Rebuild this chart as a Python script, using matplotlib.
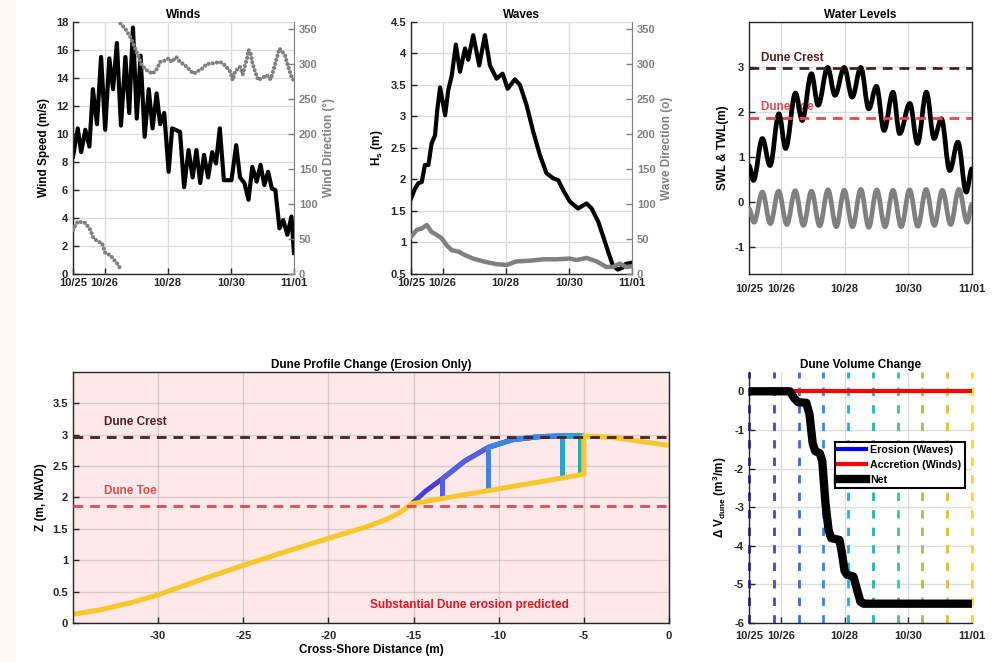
import numpy as np
import matplotlib
matplotlib.use('Agg')
import matplotlib.pyplot as plt
from matplotlib.path import Path
from matplotlib.patches import PathPatch, Rectangle

plt.rcParams['font.family'] = ['Liberation Sans', 'DejaVu Sans']
plt.rcParams['font.weight'] = 'bold'
plt.rcParams['axes.titleweight'] = 'bold'
plt.rcParams['axes.labelweight'] = 'bold'
plt.rcParams['axes.unicode_minus'] = False
plt.rcParams['mathtext.fontset'] = 'custom'
plt.rcParams['mathtext.rm'] = 'Liberation Sans:bold'
plt.rcParams['mathtext.it'] = 'Liberation Sans:bold'
plt.rcParams['mathtext.bf'] = 'Liberation Sans:bold'
plt.rcParams['mathtext.default'] = 'rm'

# time axis: days since 10/25 00:00
tick_days = [0, 1, 3, 5, 7]
tick_labels = ['10/25', '10/26', '10/28', '10/30', '11/01']

# winds
wind_t = [0, 0.15, 0.26, 0.39, 0.52, 0.63, 0.76, 0.89, 1.02, 1.15,
          1.27, 1.39, 1.52, 1.66, 1.78, 1.90, 2.02, 2.14, 2.27, 2.40,
          2.52, 2.65, 2.76, 2.89, 3.03, 3.14, 3.39, 3.52, 3.66, 3.79,
          3.91, 4.03, 4.15, 4.28, 4.41, 4.53, 4.65, 4.78, 5.02, 5.17,
          5.29, 5.43, 5.56, 5.68, 5.82, 5.94, 6.06, 6.18, 6.30, 6.41,
          6.54, 6.66, 6.79, 6.92, 7.0]
wind_speed = [8.37, 10.4, 8.7, 10.3, 9.1, 13.2, 10.7, 15.5, 10.3, 15.4,
              13.2, 16.5, 10.6, 15.5, 11.5, 17.6, 11.1, 15.6, 9.8, 13.2,
              10.4, 12.9, 10.7, 11.5, 7.3, 10.4, 10.15, 6.2, 8.85, 6.9,
              8.85, 6.5, 8.5, 6.9, 8.7, 7.9, 10.4, 6.7, 6.7, 9.2,
              6.9, 6.5, 5.3, 7.65, 6.6, 7.8, 6.35, 7.3, 6.1, 6.0,
              3.26, 3.85, 2.8, 4.1, 1.5]
wdir_t1 = [0, 0.15, 0.39, 0.55, 0.65, 0.81, 0.92, 1.02, 1.18, 1.34, 1.44, 1.50]
wdir_1 = [63, 75, 73, 63, 51, 46, 44, 30, 27, 18, 13, 7]
wdir_t2 = [1.50, 1.66, 1.81, 1.97, 2.08, 2.18, 2.34, 2.52, 2.66, 2.76,
           2.92, 3.03, 3.13, 3.27, 3.39, 3.55, 3.66, 3.82, 3.92, 4.08,
           4.24, 4.45, 4.66, 4.82, 4.98, 5.06, 5.13, 5.29, 5.38, 5.45,
           5.52, 5.56, 5.63, 5.69, 5.77, 5.87, 6.03, 6.14, 6.26, 6.35,
           6.45, 6.54, 6.64, 6.72, 6.79, 6.87, 6.94, 7.0]
wdir_2 = [358, 350, 339, 322, 310, 298, 291, 286, 293, 303,
          305, 308, 303, 310, 303, 298, 293, 286, 289, 293,
          300, 301, 303, 298, 289, 277, 289, 296, 285, 298,
          309, 320, 315, 300, 289, 277, 281, 284, 278, 291,
          308, 322, 317, 312, 300, 289, 279, 277]

# waves
hs_t = [0, 0.13, 0.23, 0.34, 0.44, 0.55, 0.65, 0.76, 0.83, 0.92,
        1.08, 1.18, 1.29, 1.42, 1.55, 1.71, 1.81, 1.97, 2.16, 2.34,
        2.50, 2.71, 2.90, 3.06, 3.29, 3.45, 3.66, 3.87, 4.08, 4.29,
        4.50, 4.66, 4.82, 5.03, 5.29, 5.56, 5.72, 5.93, 6.09, 6.30,
        6.40, 6.55, 6.70, 6.80, 7.0]
hs = [1.70, 1.86, 1.94, 1.96, 2.23, 2.23, 2.57, 2.70, 3.10, 3.46,
      3.02, 3.42, 3.65, 4.14, 3.71, 4.08, 3.90, 4.29, 3.81, 4.29,
      3.81, 3.60, 3.68, 3.44, 3.59, 3.50, 3.18, 2.76, 2.39, 2.10,
      2.02, 1.99, 1.83, 1.65, 1.54, 1.62, 1.54, 1.33, 1.09, 0.77,
      0.63, 0.57, 0.60, 0.66, 0.68]
wave_dir_t = [0, 0.18, 0.34, 0.50, 0.65, 0.81, 0.97, 1.13, 1.29, 1.50,
              1.71, 1.97, 2.29, 2.71, 3.03, 3.34, 3.77, 4.19, 4.61, 5.03,
              5.24, 5.56, 5.88, 6.19, 6.40, 6.61, 6.82, 7.0]
wave_dir = [53, 63, 65, 70, 60, 56, 51, 41, 34, 32,
            27, 22, 18, 14, 13, 18, 19, 21, 21, 22,
            20, 23, 18, 10, 10, 15, 10, 11]

# water levels (turning points of the curves)
swl_t = [0, 0.16, 0.42, 0.67, 0.93, 1.19, 1.45, 1.71, 1.96, 2.22,
         2.48, 2.74, 2.99, 3.25, 3.51, 3.76, 4.01, 4.27, 4.52, 4.78,
         5.04, 5.30, 5.56, 5.82, 6.07, 6.33, 6.59, 6.85, 7.0]
swl = [-0.15, -0.45, 0.22, -0.48, 0.24, -0.50, 0.25, -0.52, 0.24, -0.53,
       0.27, -0.55, 0.26, -0.55, 0.28, -0.56, 0.27, -0.55, 0.26, -0.55,
       0.27, -0.54, 0.28, -0.52, 0.26, -0.50, 0.28, -0.45, -0.05]
twl_t = [0, 0.14, 0.42, 0.66, 0.94, 1.15, 1.46, 1.67, 1.96, 2.17,
         2.47, 2.70, 2.99, 3.24, 3.51, 3.76, 4.00, 4.24, 4.52, 4.73,
         5.05, 5.29, 5.57, 5.81, 6.04, 6.30, 6.56, 6.82, 7.0]
twl = [0.81, 0.48, 1.41, 0.81, 1.96, 1.19, 2.42, 1.81, 2.85, 2.15,
       2.99, 2.37, 2.99, 2.33, 2.99, 2.07, 2.57, 1.59, 2.44, 1.52,
       2.19, 1.30, 2.44, 1.41, 1.85, 0.70, 1.33, 0.22, 0.74]
dune_crest = 2.97
dune_toe = 1.87

# dune profile
beach_x = [-35, -33.4, -31.5, -30.1, -27.6, -25.1, -22.7, -20.1, -17.8, -16.6, -15.8, -15.1]
beach_z = [0.14, 0.21, 0.33, 0.44, 0.68, 0.91, 1.12, 1.34, 1.53, 1.65, 1.76, 1.90]
dune_x = [-15.1, -14.3, -13.3, -12.0, -10.6, -9.2, -7.6, -6.3, -5.2, -5.0, -3.4, -1.8, 0.0]
dune_z = [1.90, 2.10, 2.30, 2.58, 2.80, 2.92, 2.97, 2.98, 2.98, 2.98, 2.96, 2.90, 2.83]
scarp_x = [-13.3, -10.6, -6.3, -5.2, -5.0]
scarp_base = [2.00, 2.12, 2.32, 2.36, 2.37]
profile_colors = ['#4a3fd4', '#5560e4', '#3b86e2', '#28a4d2', '#1fb4a2', '#f8c72c']

# dune volume change
step_t = [0, 0.78, 1.56, 2.33, 3.11, 3.89, 4.67, 5.44, 6.22, 7.0]
step_colors = ['#3e26a8', '#4545d8', '#3a6ae8', '#2d8ce6', '#22aede',
               '#1bb8bc', '#45c08f', '#a6c13e', '#efb832', '#f8d820']
net_t = [0, 1.28, 1.42, 1.54, 1.80, 1.90, 2.00, 2.08, 2.22, 2.30, 2.40,
         2.50, 2.58, 2.84, 2.92, 3.00, 3.08, 3.28, 3.38, 3.50, 3.60, 7.0]
net_v = [0, 0, -0.18, -0.28, -0.30, -0.60, -1.35, -1.55, -1.60, -1.80, -2.90,
         -3.60, -3.80, -3.85, -4.20, -4.65, -4.75, -4.80, -5.10, -5.45, -5.50, -5.50]
accr_t = [0, 7]
accr_v = [0, 0]

GRID = '#dcdcdc'
GREY = '#808080'
AXC = '#262626'
FS = 8


def smooth_line(ax, x, y, **kw):
    # cubic segments with flat tangents at each turning point
    verts = [(x[0], y[0])]
    codes = [Path.MOVETO]
    for i in range(len(x) - 1):
        dx = x[i + 1] - x[i]
        verts += [(x[i] + 0.36 * dx, y[i]), (x[i + 1] - 0.36 * dx, y[i + 1]), (x[i + 1], y[i + 1])]
        codes += [Path.CURVE4] * 3
    ax.add_patch(PathPatch(Path(verts, codes), fill=False, capstyle='round', joinstyle='round', **kw))


def time_axis(ax):
    ax.set_xlim(0, 7)
    ax.set_xticks(tick_days)
    ax.set_xticklabels(tick_labels)


def base_style(ax):
    ax.tick_params(direction='in', length=4, width=1, labelsize=FS, colors=AXC)
    ax.grid(True, color=GRID, lw=1)
    ax.set_axisbelow(True)
    for s in ax.spines.values():
        s.set_color(AXC)
        s.set_linewidth(1)


def right_axis(ax, label):
    ax2 = ax.twinx()
    ax2.set_ylim(0, 360)
    ax2.set_yticks(np.arange(0, 351, 50))
    ax2.tick_params(direction='in', length=4, width=1, labelsize=FS, colors=GREY)
    for s in ['left', 'top', 'bottom']:
        ax2.spines[s].set_visible(False)
    ax2.spines['right'].set_color(GREY)
    ax2.set_ylabel(label, color=GREY, fontsize=8.5, labelpad=4)
    ax.spines['right'].set_visible(False)
    ax.spines['top'].set_visible(False)
    return ax2


fig = plt.figure(figsize=(10.04, 6.62), dpi=100)
fig.patches.append(Rectangle((0, 0), 15 / 1004, 1, transform=fig.transFigure,
                             color='#fbfbf2', zorder=-5))

# ---- Winds
ax1 = fig.add_axes([0.0727, 0.5861, 0.2201, 0.3807])
base_style(ax1)
ax1.plot(wind_t, wind_speed, color='k', lw=3)
ax1.set_ylim(0, 18)
ax1.set_yticks(np.arange(0, 19, 2))
time_axis(ax1)
ax1.tick_params(axis='x', pad=3.2)
ax1.set_ylabel('Wind Speed (m/s)', fontsize=8.5, labelpad=4)
ax1.set_title('Winds', fontsize=8.5, pad=3)
ax1b = right_axis(ax1, 'Wind Direction (°)')
for tt, dd in [(wdir_t1, wdir_1), (wdir_t2, wdir_2)]:
    ax1b.plot(tt, dd, color=GREY, lw=3, dashes=(0.01, 1.0), dash_capstyle='round')
ax1b.set_xlim(0, 7)

# ---- Waves
ax2 = fig.add_axes([0.4094, 0.5861, 0.2201, 0.3807])
base_style(ax2)
ax2.plot(hs_t, hs, color='k', lw=3)
ax2.set_ylim(0.5, 4.5)
ax2.set_yticks(np.arange(0.5, 4.51, 0.5))
ax2.set_yticklabels(['%g' % v for v in np.arange(0.5, 4.51, 0.5)])
time_axis(ax2)
ax2.tick_params(axis='x', pad=3.2)
ax2.set_ylabel('H$_s$ (m)', fontsize=8.5, labelpad=4)
ax2.set_title('Waves', fontsize=8.5, pad=3)
ax2b = right_axis(ax2, 'Wave Direction (o)')
ax2b.plot(wave_dir_t, wave_dir, color=GREY, lw=3.2)
ax2b.set_xlim(0, 7)

# ---- Water levels
ax3 = fig.add_axes([0.7460, 0.5861, 0.2221, 0.3807])
base_style(ax3)
smooth_line(ax3, swl_t, swl, edgecolor=GREY, lw=3.4, zorder=3)
smooth_line(ax3, twl_t, twl, edgecolor='k', lw=3.4, zorder=4)
ax3.axhline(dune_crest, color='#4d1f1f', lw=2, ls='--', dashes=(3.5, 2.5), zorder=5)
ax3.axhline(dune_toe, color='#e8484a', lw=2, ls='--', dashes=(3.5, 2.5), zorder=5)
ax3.text(0.38, 3.2, 'Dune Crest', color='#5a1e1e', fontsize=8.5, va='center', zorder=2)
ax3.text(0.38, 2.12, 'Dune Toe', color='#e8484a', fontsize=8.5, va='center', zorder=2)
ax3.set_ylim(-1.6, 4.0)
ax3.set_yticks([-1, 0, 1, 2, 3])
time_axis(ax3)
ax3.tick_params(axis='x', pad=7, length=0)
ax3.set_ylabel('SWL & TWL(m)', fontsize=8.5, labelpad=4)
ax3.set_title('Water Levels', fontsize=8.5, pad=3)

# ---- Dune profile change
ax4 = fig.add_axes([0.0727, 0.0589, 0.5936, 0.3792])
base_style(ax4)
ax4.set_facecolor('#fde9e9')
ax4.grid(True, color='#b8a8a8', lw=1, alpha=0.45)
j = dune_x.index(-5.0)
ax4.plot(dune_x[:j + 1], dune_z[:j + 1], color=profile_colors[0], lw=3.6, solid_capstyle='butt')
for k in range(len(scarp_x)):
    i = dune_x.index(scarp_x[k])
    if k == len(scarp_x) - 1:
        xs = beach_x + [scarp_x[k]] + dune_x[i:]
        zs = beach_z + [scarp_base[k]] + dune_z[i:]
    else:
        xs = [scarp_x[k]] + dune_x[i:j + 1]
        zs = [scarp_base[k]] + dune_z[i:j + 1]
    ax4.plot(xs, zs, color=profile_colors[k + 1], lw=3.6, solid_capstyle='butt')
ax4.axhline(dune_crest, color='#4d1f1f', lw=2, dashes=(3.5, 2.5), zorder=5)
ax4.axhline(dune_toe, color='#e8484a', lw=2, dashes=(3.5, 2.5), zorder=5)
ax4.text(-33.2, 3.2, 'Dune Crest', color='#5a1e1e', fontsize=8.5, va='center')
ax4.text(-33.2, 2.11, 'Dune Toe', color='#e8484a', fontsize=8.5, va='center')
ax4.text(-11.7, 0.29, 'Substantial Dune erosion predicted', color='#e8141e',
         fontsize=8.5, ha='center', va='center')
ax4.set_xlim(-35, 0)
ax4.set_ylim(0, 4)
ax4.set_xticks([-30, -25, -20, -15, -10, -5, 0])
ax4.set_yticks(np.arange(0, 3.51, 0.5))
ax4.set_yticklabels(['%g' % v for v in np.arange(0, 3.51, 0.5)])
ax4.tick_params(axis='x', pad=6)
ax4.set_xlabel('Cross-Shore Distance (m)', fontsize=8.5, labelpad=2)
ax4.set_ylabel('Z (m, NAVD)', fontsize=8.5, labelpad=4)
ax4.set_title('Dune Profile Change (Erosion Only)', fontsize=8.5, pad=3)

# ---- Dune volume change
ax5 = fig.add_axes([0.7460, 0.0589, 0.2221, 0.3792])
base_style(ax5)
ax5.spines['top'].set_visible(False)
ax5.spines['right'].set_visible(False)
for tt, cc in zip(step_t, step_colors):
    ax5.axvline(tt, color=cc, lw=2, dashes=(3, 3.3), clip_on=False, zorder=2)
ax5.plot(net_t, net_v, color='#0000ff', lw=3, label='Erosion (Waves)', zorder=3)
ax5.plot(accr_t, accr_v, color='#ff0000', lw=3, label='Accretion (Winds)', zorder=3)
ax5.plot(net_t, net_v, color='k', lw=6, label='Net', zorder=4)
ax5.set_ylim(-6, 0.5)
ax5.set_yticks(np.arange(-6, 0.1, 1))
time_axis(ax5)
ax5.tick_params(axis='x', pad=6)
ax5.set_ylabel('Δ V$_{dune}$ (m$^3$/m)', fontsize=8.5, labelpad=4)
ax5.set_title('Dune Volume Change', fontsize=8.5, pad=3)
leg = ax5.legend(loc='upper left', bbox_to_anchor=(0.386, 0.721), borderaxespad=0,
                 fontsize=7.7, fancybox=False, framealpha=1, edgecolor='k',
                 handlelength=2.6, labelspacing=0.45, borderpad=0.3, handletextpad=0.4)
leg.get_frame().set_linewidth(1.5)

fig.savefig('out.png', dpi=100)
